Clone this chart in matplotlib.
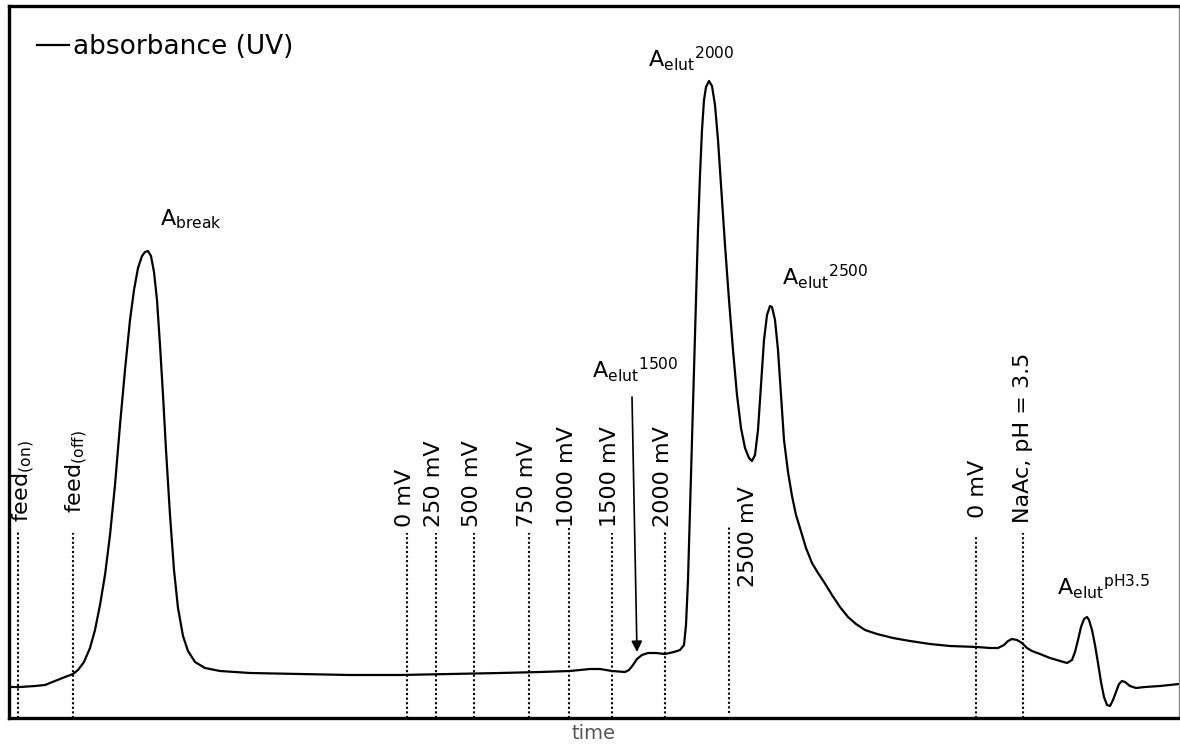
import numpy as np
import matplotlib
matplotlib.use('Agg')
import matplotlib.pyplot as plt

plt.rcParams['font.family'] = ['DejaVu Sans']
plt.rcParams['mathtext.default'] = 'regular'

# UV absorbance trace (arbitrary units)
time = [9, 20, 35, 45, 55, 65, 73, 78, 84, 90, 95, 100, 105, 110, 115, 120, 125, 130, 134, 138,
        142, 145, 148, 151, 154, 157, 160, 163, 166, 170, 174, 178, 183, 188, 195, 205, 220, 250,
        300, 350, 400, 450, 500, 540, 570, 590, 600, 612, 625, 629, 633, 637, 642, 648, 656, 665,
        674, 680, 684, 686, 688, 690, 692, 694, 696, 698, 700, 702, 704, 706, 709, 712, 715, 718,
        721, 725, 729, 733, 737, 741, 745, 749, 752, 755, 758, 761, 764, 767, 770, 772, 775, 778,
        781, 784, 788, 792, 796, 800, 806, 812, 818, 824, 832, 840, 848, 856, 865, 877, 893, 910,
        930, 950, 977, 990, 998, 1004, 1008, 1012, 1017, 1022, 1027, 1032, 1040, 1050, 1060, 1067,
        1072, 1075, 1078, 1081, 1084, 1087, 1089, 1092, 1095, 1098, 1101, 1104, 1107, 1110, 1113,
        1116, 1119, 1122, 1125, 1130, 1136, 1145, 1160, 1179]
absorbance = [31, 31, 32, 33, 37, 41, 44, 48, 56, 70, 88, 113, 143, 183, 233, 293, 348, 398, 428, 450,
              462, 466, 467, 462, 446, 418, 373, 323, 268, 203, 148, 110, 82, 67, 56, 50, 47, 45,
              44, 43, 43, 44, 45, 46, 47, 49, 49, 47, 46, 48, 53, 59, 63, 65, 65, 64,
              66, 68, 73, 93, 138, 208, 278, 348, 418, 488, 543, 588, 618, 631, 637, 632, 613, 578,
              533, 473, 418, 368, 323, 290, 270, 260, 257, 263, 288, 333, 378, 403, 412, 411, 398, 368,
              323, 278, 246, 222, 203, 190, 170, 155, 145, 136, 123, 111, 101, 94, 88, 84, 80, 77,
              74, 72, 71, 70, 70, 73, 77, 79, 78, 75, 70, 67, 64, 60, 57, 55,
              58, 66, 78, 91, 99, 101, 98, 88, 73, 55, 36, 21, 13, 12, 18,
              26, 34, 37, 36, 32, 30, 31, 32, 34]

# event markers: position, top of dotted line, label
event_x = [18, 73, 407, 436, 474, 529, 569, 612, 665, 976, 1023]
event_top = [188, 185, 185, 185, 185, 185, 190, 185, 188, 183, 185]
event_labels = ['feed$_{(on)}$', 'feed$_{(off)}$', '0 mV', '250 mV', '500 mV', '750 mV',
                '1000 mV', '1500 mV', '2000 mV', '0 mV', 'NaAc, pH = 3.5']
label_x = [24, 77, 405, 434, 472, 527, 567, 610, 663, 978, 1023]
label_y = [196, 205, 191, 191, 191, 191, 191, 191, 191, 200, 195]

# the 2500 mV marker is drawn shorter with its label to the right
x2500, top2500, bot2500 = 729, 191, 5

peak_names = [r'A$_{break}$', r'A$_{elut}$$^{2000}$', r'A$_{elut}$$^{2500}$',
              r'A$_{elut}$$^{1500}$', r'A$_{elut}$$^{pH3.5}$']
peak_x = [160, 648, 782, 592, 1057]
peak_y = [493, 651, 433, 340, 123]

fig = plt.figure(figsize=(11.8, 7.51), dpi=100)
ax = fig.add_axes([9 / 1180, 33 / 751, 1170 / 1180, 712 / 751])

ax.plot(time, absorbance, color='black', lw=1.6, label='absorbance (UV)')
ax.vlines(event_x, 0, event_top, colors='black', linestyles=(0, (1, 1.2)), lw=1.5)
ax.vlines([x2500], bot2500, top2500, colors='black', linestyles=(0, (1, 1.2)), lw=1.5)

for x, y, s in zip(label_x, label_y, event_labels):
    ax.text(x, y, s, rotation=90, ha='center', va='bottom', fontsize=16)
ax.text(748, 131, '2500 mV', rotation=90, ha='center', va='bottom', fontsize=16)

for x, y, s in zip(peak_x, peak_y, peak_names):
    ax.text(x, y, s, ha='left', va='baseline', fontsize=16)

ax.annotate('', xy=(637, 66), xytext=(632, 321),
            arrowprops=dict(arrowstyle='-|>', color='black', lw=1.2,
                            mutation_scale=16, shrinkA=0, shrinkB=0))

ax.set_xlim(9, 1179)
ax.set_ylim(0, 712)
ax.set_xticks([])
ax.set_yticks([])
ax.set_xlabel('time', fontsize=14, color='#555555', labelpad=4)

for side in ['left', 'top', 'bottom']:
    ax.spines[side].set_linewidth(2.4)
    ax.spines[side].set_color('black')
ax.spines['right'].set_linewidth(1.0)
ax.spines['right'].set_color('#888888')

ax.legend(loc='upper left', bbox_to_anchor=(28 / 1170, 684 / 712), frameon=False,
          fontsize=19, handlelength=1.2, handletextpad=0.15, borderpad=0, borderaxespad=0)

fig.savefig('out.png', dpi=100)
